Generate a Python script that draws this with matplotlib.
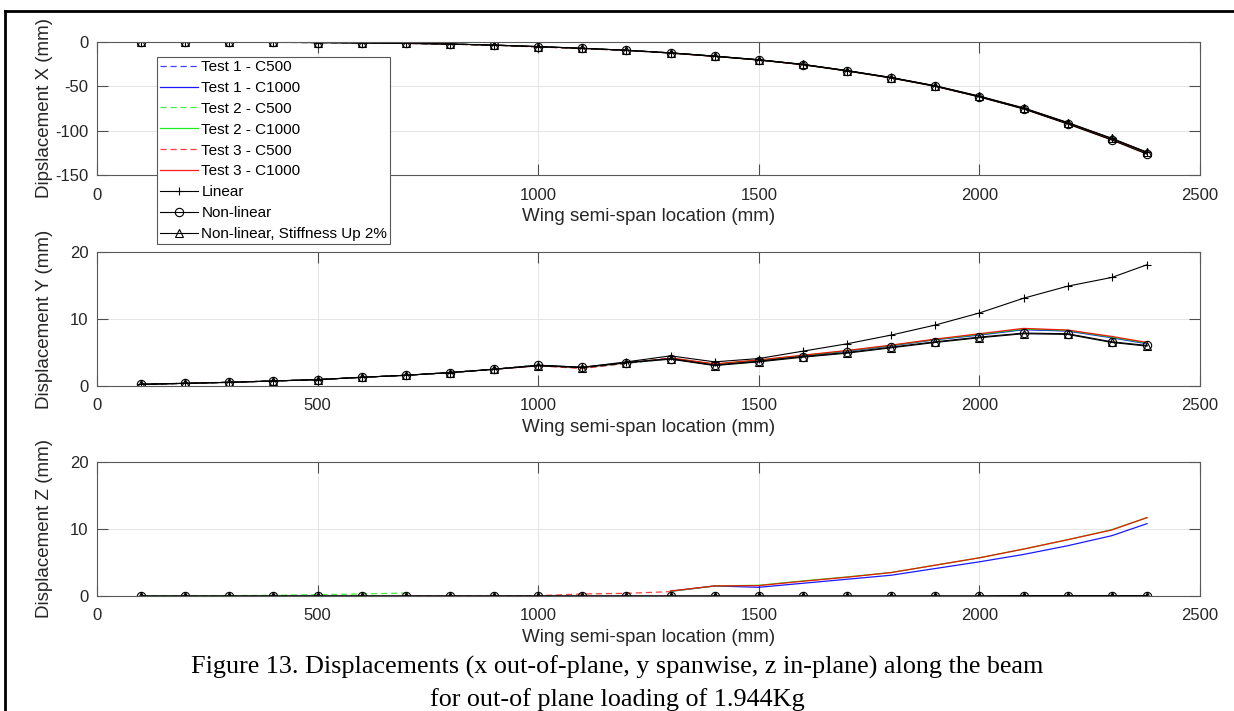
import numpy as np
import matplotlib
matplotlib.use('Agg')
import matplotlib.pyplot as plt
from matplotlib.lines import Line2D

plt.rcParams['font.family'] = ['Liberation Sans', 'DejaVu Sans']
plt.rcParams['axes.unicode_minus'] = False

# span stations (mm)
x_model = [100, 200, 300, 400, 500, 600, 700, 800, 900, 1000, 1100, 1200,
           1300, 1400, 1500, 1600, 1700, 1800, 1900, 2000, 2100, 2200, 2300, 2380]
x_c500 = [100, 200, 300, 400, 500, 600, 700, 800, 900, 1000, 1100, 1200, 1300]
x_c1000 = [1300, 1400, 1500, 1600, 1700, 1800, 1900, 2000, 2100, 2200, 2300, 2380]

# ---- displacement X (out-of-plane) ----
x_linear = [0.0, -0.1, -0.2, -0.4, -0.6, -1.0, -1.5, -2.3, -3.5, -5.2, -7.1, -9.3,
            -12.2, -15.9, -20.0, -25.2, -32.2, -40.0, -49.3, -61.0, -74.3, -90.8, -108.6, -124.3]
x_nonlin = [0.0, -0.1, -0.2, -0.4, -0.6, -1.0, -1.5, -2.3, -3.5, -5.2, -7.2, -9.4,
            -12.4, -16.2, -20.3, -25.6, -32.7, -40.6, -50.0, -62.0, -75.5, -92.5, -110.5, -126.5]
x_stiff = [0.0, -0.1, -0.2, -0.4, -0.6, -1.0, -1.5, -2.3, -3.5, -5.2, -7.1, -9.3,
           -12.3, -16.0, -20.1, -25.3, -32.3, -40.1, -49.5, -61.3, -74.6, -91.0, -108.8, -124.6]
x_t1_c500 = [0.0, -0.1, -0.2, -0.4, -0.6, -1.0, -1.5, -2.3, -3.6, -5.4, -7.3, -9.5, -12.4]
x_t2_c500 = [0.0, -0.1, -0.2, -0.4, -0.6, -1.0, -1.5, -2.3, -3.6, -5.4, -7.3, -9.5, -12.4]
x_t3_c500 = [0.0, -0.1, -0.2, -0.4, -0.6, -1.0, -1.6, -2.5, -3.8, -5.6, -7.5, -9.6, -12.5]
x_t1_c1000 = [-12.4, -16.1, -20.2, -25.5, -32.5, -40.4, -49.8, -61.7, -75.0, -91.6, -109.8, -125.4]
x_t2_c1000 = [-12.4, -16.1, -20.2, -25.5, -32.5, -40.4, -49.8, -61.7, -75.1, -91.8, -110.0, -125.7]
x_t3_c1000 = [-12.5, -16.2, -20.3, -25.6, -32.6, -40.5, -49.9, -61.8, -75.2, -92.0, -110.2, -126.0]

# ---- displacement Y (spanwise) ----
y_linear = [0.25, 0.4, 0.55, 0.75, 0.95, 1.3, 1.6, 2.0, 2.5, 3.1, 2.8, 3.6,
            4.5, 3.6, 4.1, 5.2, 6.3, 7.6, 9.1, 10.9, 13.1, 14.9, 16.2, 18.1]
y_nonlin = [0.25, 0.4, 0.55, 0.75, 0.95, 1.3, 1.6, 2.0, 2.5, 3.1, 2.8, 3.5,
            4.1, 3.1, 3.7, 4.4, 5.0, 5.8, 6.6, 7.3, 7.9, 7.8, 6.6, 6.05]
y_stiff = [0.25, 0.4, 0.55, 0.75, 0.95, 1.3, 1.6, 2.0, 2.5, 3.0, 2.75, 3.45,
           4.0, 3.05, 3.6, 4.3, 4.9, 5.7, 6.5, 7.2, 7.8, 7.7, 6.5, 5.95]
y_t1_c500 = [0.25, 0.4, 0.55, 0.75, 0.95, 1.3, 1.6, 2.0, 2.5, 3.1, 2.7, 3.4, 4.1]
y_t2_c500 = [0.25, 0.4, 0.55, 0.75, 0.95, 1.3, 1.6, 2.0, 2.5, 3.1, 2.7, 3.4, 4.1]
y_t3_c500 = [0.25, 0.4, 0.55, 0.75, 0.95, 1.3, 1.6, 2.0, 2.5, 3.0, 2.6, 3.4, 4.2]
y_t1_c1000 = [4.1, 3.2, 3.8, 4.5, 5.2, 6.0, 6.9, 7.6, 8.4, 8.2, 7.2, 6.3]
y_t2_c1000 = [4.15, 3.25, 3.85, 4.55, 5.25, 6.05, 6.95, 7.7, 8.5, 8.3, 7.3, 6.4]
y_t3_c1000 = [4.2, 3.3, 3.9, 4.6, 5.3, 6.1, 7.0, 7.8, 8.6, 8.35, 7.4, 6.5]

# ---- displacement Z (in-plane) ----
z_linear = [0.0, 0.0, 0.0, 0.0, 0.0, 0.0, 0.0, 0.0, 0.0, 0.0, 0.0, 0.0,
            0.0, 0.0, 0.0, 0.0, 0.0, 0.0, 0.0, 0.0, 0.0, 0.0, 0.0, 0.0]
z_nonlin = [0.0, 0.0, 0.0, 0.0, 0.0, 0.0, 0.0, 0.0, 0.0, 0.0, 0.0, 0.0,
            0.0, 0.0, 0.0, 0.0, 0.0, 0.0, 0.0, 0.0, 0.05, 0.05, 0.05, 0.05]
z_stiff = [0.0, 0.0, 0.0, 0.0, 0.0, 0.0, 0.0, 0.0, 0.0, 0.0, 0.0, 0.0,
           0.0, 0.0, 0.0, 0.0, 0.0, 0.0, 0.0, 0.0, 0.05, 0.05, 0.05, 0.05]
z_t1_c500 = [0.0, 0.0, 0.0, 0.0, 0.0, 0.0, 0.0, 0.0, 0.0, 0.0, 0.0, 0.0, 0.0]
z_t2_c500 = [0.0, 0.02, 0.05, 0.1, 0.2, 0.3, 0.45, np.nan, np.nan, np.nan, np.nan, np.nan, np.nan]
z_t3_c500 = [np.nan, np.nan, np.nan, np.nan, np.nan, np.nan, 0.0, 0.0, 0.0, 0.05, 0.3, 0.4, 0.65]
z_t1_c1000 = [0.7, 1.5, 1.3, 1.9, 2.5, 3.1, 4.1, 5.1, 6.2, 7.5, 9.0, 10.8]
z_t2_c1000 = [0.7, 1.5, 1.6, 2.25, 2.85, 3.5, 4.6, 5.7, 7.0, 8.4, 9.9, 11.7]
z_t3_c1000 = [0.75, 1.5, 1.55, 2.2, 2.8, 3.5, 4.6, 5.7, 7.0, 8.4, 9.85, 11.7]

panels = [
    ('Dipslacement X (mm)', [-150, 0], [-150, -100, -50, 0],
     [x_t1_c500, x_t1_c1000, x_t2_c500, x_t2_c1000, x_t3_c500, x_t3_c1000],
     [x_linear, x_nonlin, x_stiff]),
    ('Displacement Y (mm)', [0, 20], [0, 10, 20],
     [y_t1_c500, y_t1_c1000, y_t2_c500, y_t2_c1000, y_t3_c500, y_t3_c1000],
     [y_linear, y_nonlin, y_stiff]),
    ('Displacement Z (mm)', [0, 20], [0, 10, 20],
     [z_t1_c500, z_t1_c1000, z_t2_c500, z_t2_c1000, z_t3_c500, z_t3_c1000],
     [z_linear, z_nonlin, z_stiff]),
]

test_names = ['Test 1 - C500', 'Test 1 - C1000', 'Test 2 - C500',
              'Test 2 - C1000', 'Test 3 - C500', 'Test 3 - C1000']
test_colors = ['#0000ff', '#0000ff', '#00ee00', '#00ee00', '#ff0000', '#ff0000']
model_names = ['Linear', 'Non-linear', 'Non-linear, Stiffness Up 2%']
model_markers = ['+', 'o', '^']

W, H = 1234, 711
fig = plt.figure(figsize=(W / 100, H / 100), dpi=100)

left, right = 97, 1200
tops = [42, 252, 462]
bottoms = [175, 386, 596]

axes = []
for (ylab, ylim, yticks, tests, models), t, b in zip(panels, tops, bottoms):
    ax = fig.add_axes([left / W, 1 - b / H, (right - left) / W, (b - t) / H])
    for i, vals in enumerate(tests):
        xs = x_c500 if i % 2 == 0 else x_c1000
        dashed = i % 2 == 0
        ax.plot(xs, vals, color=test_colors[i], lw=0.9,
                ls=(0, (5, 3)) if dashed else '-',
                alpha=0.75 if dashed else 0.9, label=test_names[i])
    for vals, mk, name in zip(models, model_markers, model_names):
        ax.plot(x_model, vals, color='black', lw=0.8, marker=mk, ms=6,
                mfc='none', mew=0.8, label=name)
    ax.set_xlim(0, 2500)
    ax.set_ylim(*ylim)
    ax.set_xticks([0, 500, 1000, 1500, 2000, 2500])
    ax.set_yticks(yticks)
    ax.grid(True, color='0.88', lw=0.6)
    ax.set_axisbelow(True)
    ax.tick_params(direction='in', top=True, right=True, length=8, width=0.8,
                   color='0.3', labelsize=12, labelcolor='0.15', pad=6)
    ax.tick_params(axis='x', pad=9)
    for sp in ax.spines.values():
        sp.set_color('0.35')
        sp.set_linewidth(0.8)
    ax.set_xlabel('Wing semi-span location (mm)', fontsize=13.5, color='0.15', labelpad=4)
    ax.set_ylabel(ylab, fontsize=13.5, color='0.15')
    ax.yaxis.set_label_coords(-0.04, 0.5)
    axes.append(ax)

axes[0].set_zorder(5)
leg = axes[0].legend(loc='upper left', bbox_to_anchor=(157 / W, 1 - 57 / H),
                     bbox_transform=fig.transFigure, fontsize=11, frameon=True,
                     fancybox=False, framealpha=1, edgecolor='0.35',
                     borderpad=0.2, borderaxespad=0, handlelength=2.5,
                     handletextpad=0.2, labelspacing=0.45)
leg.get_frame().set_linewidth(0.8)

# caption
fig.text(0.5, 1 - 667 / H,
         'Figure 13. Displacements (x out-of-plane, y spanwise, z in-plane) along the beam',
         ha='center', va='center', fontsize=18.8, family='Liberation Serif')
fig.text(0.5, 1 - 700 / H, 'for out-of plane loading of 1.944Kg',
         ha='center', va='center', fontsize=18.8, family='Liberation Serif')

# page frame
fig.add_artist(Line2D([5 / W, 1], [1 - 11 / H, 1 - 11 / H], transform=fig.transFigure,
                      color='black', lw=2))
fig.add_artist(Line2D([5 / W, 5 / W], [0, 1 - 11 / H], transform=fig.transFigure,
                      color='black', lw=2))

fig.savefig('out.png', dpi=100)
